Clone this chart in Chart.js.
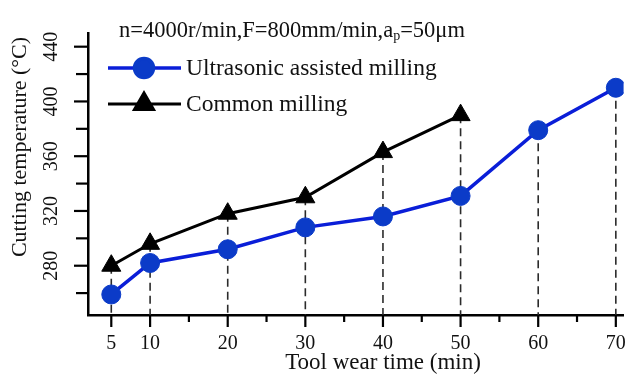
<!DOCTYPE html>
<html>
<head>
<meta charset="utf-8">
<script src="https://cdn.jsdelivr.net/npm/chart.js@4/dist/chart.umd.min.js"></script>
<style>
  html, body { margin: 0; padding: 0; background: #ffffff; }
  #wrap { width: 643px; height: 380px; position: relative; }
</style>
</head>
<body>
<div id="wrap"><canvas id="c"></canvas></div>
<script>
// Tool wear time (min) and measured cutting temperature (°C)
const wearTime = [5, 10, 20, 30, 40, 50, 60, 70];
const ultrasonicTemp = [259, 282, 292, 308, 316, 331, 379, 410];
const commonTemp = [280, 296, 318, 330, 363, 390];

const xTickValues = [5, 10, 15, 20, 25, 30, 35, 40, 45, 50, 55, 60, 65, 70];
const xLabelledTicks = [5, 10, 20, 30, 40, 50, 60, 70];
const yTickValues = [260, 280, 300, 320, 340, 360, 380, 400, 420, 440];
const yLabelledTicks = [280, 320, 360, 400, 440];

const seriesNames = ['Ultrasonic assisted milling', 'Common milling'];
const xTitle = 'Tool wear time (min)';
const yTitle = 'Cutting temperature (°C)';
const conditionParts = ['n=4000r/min,F=800mm/min,a', 'p', '=50\u03bcm'];

const FONT = '"Liberation Serif", "Times New Roman", serif';
const BLUE_LINE = '#0a1ed8';
const BLUE_MARK = '#0b3bc8';

const toPoints = (xs, ys) => ys.map((v, i) => ({ x: xs[i], y: v }));

const decor = {
  id: 'decor',
  beforeDatasetsDraw(chart) {
    const { ctx, scales: { x, y } } = chart;
    ctx.save();
    ctx.strokeStyle = '#2b2b2b';
    ctx.lineWidth = 1.6;
    ctx.setLineDash([8, 5]);
    wearTime.forEach((t, i) => {
      const vals = [ultrasonicTemp[i], commonTemp[i]].filter(v => v != null);
      const top = Math.max(...vals);
      const px = x.getPixelForValue(t);
      ctx.beginPath();
      ctx.moveTo(px, y.getPixelForValue(top));
      ctx.lineTo(px, y.bottom);
      ctx.stroke();
    });
    ctx.restore();
  },
  afterDraw(chart) {
    const { ctx, scales: { x, y } } = chart;
    const axisY = y.bottom;
    const axisX = x.left;
    ctx.save();
    ctx.strokeStyle = '#000';
    ctx.lineWidth = 2.2;
    // x tick marks
    xTickValues.forEach(v => {
      const px = x.getPixelForValue(v);
      const len = xLabelledTicks.includes(v) ? 12 : 7;
      ctx.beginPath();
      ctx.moveTo(px, axisY);
      ctx.lineTo(px, axisY + len);
      ctx.stroke();
    });
    // y tick marks
    yTickValues.forEach(v => {
      const py = y.getPixelForValue(v);
      const len = yLabelledTicks.includes(v) ? 14 : 12;
      ctx.beginPath();
      ctx.moveTo(axisX, py);
      ctx.lineTo(axisX - len, py);
      ctx.stroke();
    });

    // axis titles
    ctx.fillStyle = '#111';
    ctx.textAlign = 'center';
    ctx.textBaseline = 'middle';
    ctx.font = '23px ' + FONT;
    ctx.fillText(xTitle, 383, 363);
    ctx.save();
    ctx.translate(20, 147);
    ctx.rotate(-Math.PI / 2);
    ctx.font = '22px ' + FONT;
    ctx.fillText(yTitle, 0, 0);
    ctx.restore();

    // cutting conditions
    ctx.textAlign = 'left';
    ctx.textBaseline = 'alphabetic';
    let cx = 119;
    const base = 37;
    ctx.font = '22.5px ' + FONT;
    ctx.fillText(conditionParts[0], cx, base);
    cx += ctx.measureText(conditionParts[0]).width;
    ctx.font = '14px ' + FONT;
    ctx.fillText(conditionParts[1], cx, base + 3);
    cx += ctx.measureText(conditionParts[1]).width;
    ctx.font = '22.5px ' + FONT;
    ctx.fillText(conditionParts[2], cx, base);

    // legend
    const rows = [68, 104];
    chart.data.datasets.forEach((ds, i) => {
      const ry = rows[i];
      ctx.strokeStyle = ds.borderColor;
      ctx.lineWidth = ds.borderWidth;
      ctx.beginPath();
      ctx.moveTo(108, ry);
      ctx.lineTo(181, ry);
      ctx.stroke();
      ctx.fillStyle = ds.pointBackgroundColor;
      ctx.strokeStyle = ds.pointBorderColor;
      Chart.helpers.drawPoint(ctx, {
        pointStyle: ds.pointStyle, radius: ds.pointRadius, rotation: 0, borderWidth: 1
      }, 144, ry);
      ctx.fillStyle = '#111';
      ctx.font = '23.5px ' + FONT;
      ctx.textBaseline = 'middle';
      ctx.fillText(ds.label, 186, ry + 1);
    });
    ctx.restore();
  }
};

new Chart(document.getElementById('c'), {
  type: 'line',
  data: {
    datasets: [
      {
        label: seriesNames[0],
        data: toPoints(wearTime, ultrasonicTemp),
        borderColor: BLUE_LINE,
        borderWidth: 3.5,
        pointStyle: 'circle',
        pointRadius: 9.5,
        pointBackgroundColor: BLUE_MARK,
        pointBorderColor: BLUE_MARK,
        pointBorderWidth: 1,
        tension: 0
      },
      {
        label: seriesNames[1],
        data: toPoints(wearTime, commonTemp),
        borderColor: '#000000',
        borderWidth: 3,
        pointStyle: 'triangle',
        pointRadius: 11,
        pointBackgroundColor: '#000000',
        pointBorderColor: '#000000',
        pointBorderWidth: 1,
        tension: 0
      }
    ]
  },
  options: {
    responsive: true,
    maintainAspectRatio: false,
    animation: false,
    events: [],
    layout: { padding: { top: 15, right: 7, left: 0, bottom: 0 } },
    plugins: { legend: { display: false }, tooltip: { enabled: false }, title: { display: false } },
    scales: {
      x: {
        type: 'linear',
        min: 2,
        max: 71,
        afterBuildTicks(scale) { scale.ticks = xTickValues.map(v => ({ value: v })); },
        afterFit(scale) { scale.height = 65; },
        grid: { display: true, drawOnChartArea: false, drawTicks: false },
        border: { display: true, color: '#000', width: 2.5 },
        ticks: {
          autoSkip: false,
          maxRotation: 0,
          padding: 17,
          color: '#111',
          font: { family: FONT, size: 20 },
          callback: v => (xLabelledTicks.includes(v) ? String(v) : '')
        }
      },
      y: {
        type: 'linear',
        min: 244,
        max: 450,
        afterBuildTicks(scale) { scale.ticks = yTickValues.map(v => ({ value: v })); },
        afterFit(scale) { scale.width = 88; },
        grid: { display: true, drawOnChartArea: false, drawTicks: false },
        border: { display: true, color: '#000', width: 2.5 },
        ticks: {
          autoSkip: false,
          minRotation: 90,
          maxRotation: 90,
          crossAlign: 'center',
          padding: 21,
          color: '#111',
          font: { family: FONT, size: 20 },
          callback: v => (yLabelledTicks.includes(v) ? String(v) : '')
        }
      }
    }
  },
  plugins: [decor]
});
</script>
</body>
</html>
